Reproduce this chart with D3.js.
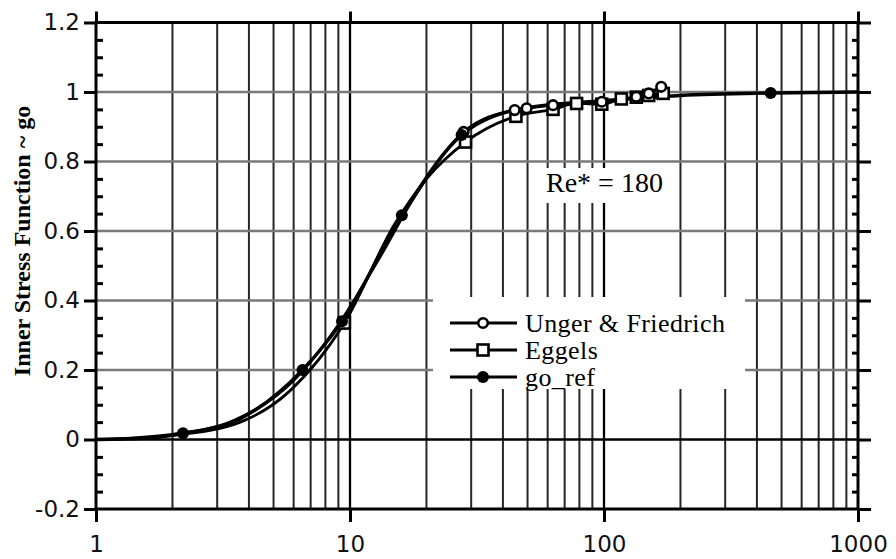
<!DOCTYPE html>
<html>
<head>
<meta charset="utf-8">
<script src="https://cdn.jsdelivr.net/npm/d3@7"></script>
<style>
  body { margin: 0; background: #fff; }
  svg { display: block; }
</style>
</head>
<body>
<svg id="chart" width="896" height="559"></svg>
<script>
// values
var xTickValues = [1, 10, 100, 1000];
var yTickValues = [-0.2, 0, 0.2, 0.4, 0.6, 0.8, 1, 1.2];

// go_ref curve (filled circles)
var goRefX = [1, 1.6, 2.2, 3.7, 6.5, 9.3, 16, 27.5, 50, 100, 200, 453, 1000];
var goRefY = [0, 0.004, 0.018, 0.06, 0.2, 0.34, 0.645, 0.876, 0.955, 0.975, 0.99, 0.997, 1.0];
var goRefMarkX = [2.2, 6.5, 9.3, 16, 27.5, 453];

// Unger & Friedrich (open circles)
var ungerX = [1, 2, 3.5, 6, 9, 13, 18, 28, 44.5, 49.6, 63, 98, 134, 150, 168];
var ungerY = [0, 0.015, 0.055, 0.17, 0.33, 0.52, 0.7, 0.885, 0.948, 0.953, 0.962, 0.972, 0.986, 0.996, 1.015];
var ungerMarkX = [28, 44.5, 49.6, 63, 98, 134, 150, 168];

// Eggels (open squares)
var eggelsX = [1, 2, 3.7, 5.8, 9.5, 15, 20, 28.5, 45, 63, 78, 98, 117, 134, 150, 171];
var eggelsY = [0, 0.012, 0.05, 0.14, 0.335, 0.62, 0.75, 0.856, 0.93, 0.95, 0.967, 0.965, 0.98, 0.985, 0.99, 0.996];
var eggelsMarkX = [9.5, 28.5, 45, 63, 78, 98, 117, 134, 150, 171];

var legendLabels = ["Unger & Friedrich", "Eggels", "go_ref"];

var svg = d3.select("#chart");

var x = d3.scaleLog().domain([1, 1000]).range([96, 858]);
var y = d3.scaleLinear().domain([-0.2, 1.2]).range([509, 22.5]);

function zip(xs, ys) {
  return xs.map(function(v, i) { return [v, ys[i]]; });
}
function pick(pts, xs) {
  return pts.filter(function(d) { return xs.indexOf(d[0]) >= 0; });
}

// grid lines
var minorX = [];
[1, 10, 100].forEach(function(d) {
  for (var k = 2; k <= 9; k++) minorX.push(d * k);
});
var grid = svg.append("g");
grid.selectAll(".vminor").data(minorX).enter().append("line")
  .attr("x1", function(d) { return x(d); })
  .attr("x2", function(d) { return x(d); })
  .attr("y1", y(1.2)).attr("y2", y(-0.2))
  .attr("stroke", "#262626").attr("stroke-width", 2);
grid.selectAll(".vmajor").data([10, 100]).enter().append("line")
  .attr("x1", function(d) { return x(d); })
  .attr("x2", function(d) { return x(d); })
  .attr("y1", y(1.2)).attr("y2", y(-0.2))
  .attr("stroke", "#000").attr("stroke-width", 2.3);
grid.selectAll(".hgrid").data([0.2, 0.4, 0.6, 0.8, 1]).enter().append("line")
  .attr("x1", x(1)).attr("x2", x(1000))
  .attr("y1", function(d) { return y(d); })
  .attr("y2", function(d) { return y(d); })
  .attr("stroke", "#7a7a7a").attr("stroke-width", 2.6);
grid.append("line")
  .attr("x1", x(1)).attr("x2", x(1000))
  .attr("y1", y(0)).attr("y2", y(0))
  .attr("stroke", "#000").attr("stroke-width", 2.3);

// white boxes behind the annotation and legend
svg.append("rect").attr("x", 543).attr("y", 168).attr("width", 126).attr("height", 35).attr("fill", "#fff");
svg.append("rect").attr("x", 433).attr("y", 297).attr("width", 312).attr("height", 92).attr("fill", "#fff");

svg.append("text")
  .attr("x", 546).attr("y", 192)
  .style("font-family", "'Liberation Serif', 'Times New Roman', serif")
  .style("font-size", "28px")
  .text("Re* = 180");

// axes
var fmt = function(d) { return String(+d.toFixed(1)); };
var minorY = d3.range(-0.15, 1.2, 0.05).filter(function(d) {
  return Math.abs(Math.round(d / 0.2) * 0.2 - d) > 1e-6;
});

var leftAxis = svg.append("g").attr("transform", "translate(" + x(1) + ",0)");
leftAxis.call(d3.axisLeft(y).tickValues(yTickValues).tickFormat(fmt).tickSize(12).tickSizeOuter(0).tickPadding(4));
leftAxis.append("g").call(d3.axisLeft(y).tickValues(minorY).tickFormat("").tickSize(-7).tickSizeOuter(0));

var rightAxis = svg.append("g").attr("transform", "translate(" + x(1000) + ",0)");
rightAxis.call(d3.axisRight(y).tickValues(yTickValues).tickFormat("").tickSize(13).tickSizeOuter(0));
rightAxis.append("g").call(d3.axisRight(y).tickValues(minorY).tickFormat("").tickSize(-6).tickSizeOuter(0));

var bottomAxis = svg.append("g").attr("transform", "translate(0," + y(-0.2) + ")");
bottomAxis.call(d3.axisBottom(x).tickValues(xTickValues).tickFormat(d3.format("d")).tickSize(13).tickSizeOuter(0).tickPadding(14));

var topAxis = svg.append("g").attr("transform", "translate(0," + y(1.2) + ")");
topAxis.call(d3.axisTop(x).tickValues(xTickValues).tickFormat("").tickSize(11).tickSizeOuter(0));

svg.selectAll(".domain").remove();
svg.selectAll(".tick line").attr("stroke", "#000").attr("stroke-width", 3);
svg.selectAll(".tick text")
  .style("font-family", "'DejaVu Sans', Verdana, sans-serif")
  .style("font-size", "23px")
  .attr("fill", "#111");

svg.append("rect")
  .attr("x", x(1)).attr("y", y(1.2))
  .attr("width", x(1000) - x(1)).attr("height", y(-0.2) - y(1.2))
  .attr("fill", "none").attr("stroke", "#000").attr("stroke-width", 3);

// y axis title
svg.append("text")
  .attr("transform", "translate(29.5,241) rotate(-90)")
  .attr("text-anchor", "middle")
  .style("font-family", "'Liberation Serif', 'Times New Roman', serif")
  .style("font-weight", "bold")
  .style("font-size", "24px")
  .text("Inner Stress Function  ~  go");

// curves
var line = d3.line()
  .x(function(d) { return x(d[0]); })
  .y(function(d) { return y(d[1]); })
  .curve(d3.curveMonotoneX);

var eggelsPts = zip(eggelsX, eggelsY);
var ungerPts = zip(ungerX, ungerY);
var goRefPts = zip(goRefX, goRefY);

var plot = svg.append("g");
plot.append("path").datum(eggelsPts)
  .attr("d", line).attr("fill", "none").attr("stroke", "#000").attr("stroke-width", 2.8);
plot.append("path").datum(ungerPts)
  .attr("d", line).attr("fill", "none").attr("stroke", "#000").attr("stroke-width", 2.8);
plot.append("path").datum(goRefPts)
  .attr("d", line).attr("fill", "none").attr("stroke", "#000").attr("stroke-width", 3.4);

// markers
plot.selectAll(".sq").data(pick(eggelsPts, eggelsMarkX)).enter().append("rect")
  .attr("x", function(d) { return x(d[0]) - 5.5; })
  .attr("y", function(d) { return y(d[1]) - 5.5; })
  .attr("width", 11).attr("height", 11)
  .attr("fill", "#fff").attr("stroke", "#000").attr("stroke-width", 2.6);
plot.selectAll(".oc").data(pick(ungerPts, ungerMarkX)).enter().append("circle")
  .attr("cx", function(d) { return x(d[0]); })
  .attr("cy", function(d) { return y(d[1]); })
  .attr("r", 4.8)
  .attr("fill", "#fff").attr("stroke", "#000").attr("stroke-width", 2.6);
plot.selectAll(".fc").data(pick(goRefPts, goRefMarkX)).enter().append("circle")
  .attr("cx", function(d) { return x(d[0]); })
  .attr("cy", function(d) { return y(d[1]); })
  .attr("r", 6)
  .attr("fill", "#000");

// legend
var legend = svg.append("g").attr("transform", "translate(450,323)");
legendLabels.forEach(function(name, i) {
  var row = legend.append("g").attr("transform", "translate(0," + i * 27 + ")");
  row.append("line").attr("x1", 0).attr("x2", 67).attr("y1", 0).attr("y2", 0)
    .attr("stroke", "#000").attr("stroke-width", 3);
  if (i == 0) {
    row.append("circle").attr("cx", 33).attr("cy", 0).attr("r", 4.8)
      .attr("fill", "#fff").attr("stroke", "#000").attr("stroke-width", 2.6);
  } else if (i == 1) {
    row.append("rect").attr("x", 27.5).attr("y", -5.5).attr("width", 11).attr("height", 11)
      .attr("fill", "#fff").attr("stroke", "#000").attr("stroke-width", 2.6);
  } else {
    row.append("circle").attr("cx", 33).attr("cy", 0).attr("r", 6).attr("fill", "#000");
  }
  row.append("text")
    .attr("x", 75).attr("y", 8.5)
    .style("font-family", "'Liberation Serif', 'Times New Roman', serif")
    .style("font-size", "26px")
    .style("letter-spacing", "0.4px")
    .text(name);
});
</script>
</body>
</html>
